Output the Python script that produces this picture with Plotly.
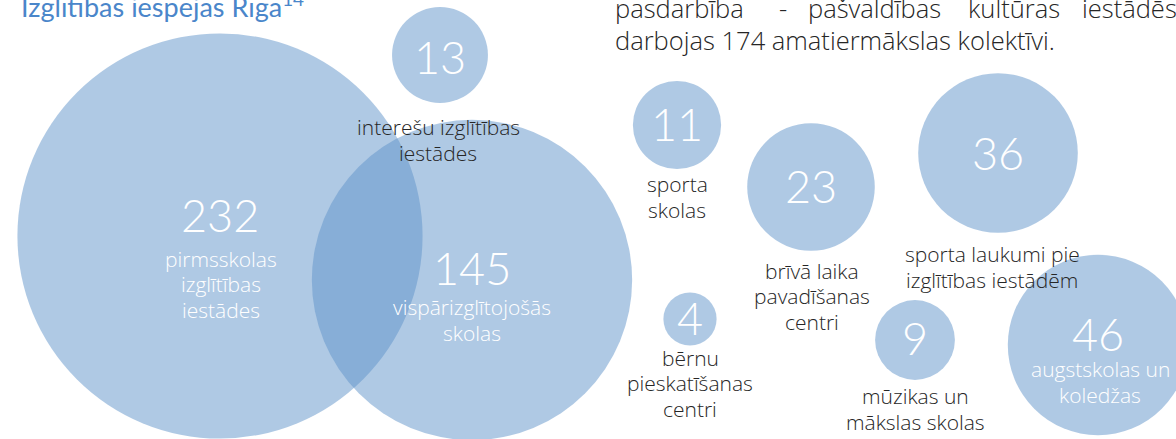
import plotly.graph_objects as go

# ---- data ----
values = [232, 145, 13, 11, 23, 36, 4, 9, 46]
labels = [
    "pirmsskolas<br>izglītības<br>iestādes",
    "vispārizglītojošās<br>skolas",
    "interešu izglītības<br>iestādes",
    "sporta<br>skolas",
    "brīvā laika<br>pavadīšanas<br>centri",
    "sporta laukumi pie<br>izglītības iestādēm",
    "bērnu<br>pieskatīšanas<br>centri",
    "mūzikas un<br>mākslas skolas",
    "augstskolas un<br>koledžas",
]
label_inside = [True, True, False, False, False, False, False, False, True]
title_text = "Izglītības iespējas Rīgā<sup>14</sup>"
para_line1 = ["pasdarbība", "-", "pašvaldības", "kultūras", "iestādēs"]
para_line2 = "darbojas 174 amatiermākslas kolektīvi."

# ---- layout (pixel positions) ----
W, H = 1176, 439
cx = [220, 472, 440, 677, 811, 998, 690, 915, 1098]
cy = [236, 280, 55, 125, 187, 153, 319, 340, 345]
num_y = [215, 268, 57, 124, 186, 153, 318, 338, 334]
lab_x = [221, 472, 438, 677, 812, 992, 690, 915, 1100]
lab_y = [284, 320, 140, 197, 296, 267, 383, 409, 382]
LINE_PITCH = 25.5
para1_x = [613, 783, 874, 1014, 1176]
para1_anchor = ["left", "center", "center", "center", "right"]
para1_shift = [0, 0, 0, 0, 3]

BLUE = "rgb(95,147,201)"
DARK = "#262626"
NUMFONT = "Lato"
TXTFONT = "Open Sans"

fig = go.Figure()
fig.add_trace(go.Scatter(
    x=cx, y=cy, mode="markers",
    marker=dict(size=values, sizemode="area", sizeref=2 / (26.6 ** 2),
                color=BLUE, opacity=0.5, line=dict(width=0)),
    hoverinfo="skip", showlegend=False,
))

ann = []
for i, v in enumerate(values):
    ann.append(dict(x=cx[i], y=num_y[i], text=str(v), showarrow=False,
                    xanchor="center", yanchor="middle",
                    font=dict(family=NUMFONT, size=45, color="white", weight=300)))
    lines = labels[i].split("<br>")
    n = len(lines)
    for k, ln in enumerate(lines):
        ann.append(dict(x=lab_x[i], y=lab_y[i] + (k - (n - 1) / 2) * LINE_PITCH,
                        text=ln, showarrow=False,
                        xanchor="center", yanchor="middle",
                        font=dict(family=TXTFONT, size=21,
                                  color="white" if label_inside[i] else DARK,
                                  weight=300)))

ann.append(dict(x=19, y=5, text=title_text, showarrow=False,
                xanchor="left", yanchor="middle",
                font=dict(family=NUMFONT, size=27, color="rgb(74,134,202)", weight=400)))
for j, w in enumerate(para_line1):
    ann.append(dict(x=para1_x[j], y=8, text=w, showarrow=False,
                    xanchor=para1_anchor[j], yanchor="middle", xshift=para1_shift[j],
                    font=dict(family=TXTFONT, size=25.5, color=DARK, weight=300)))
ann.append(dict(x=613, y=40, text=para_line2, showarrow=False,
                xanchor="left", yanchor="middle",
                font=dict(family=TXTFONT, size=25.5, color=DARK, weight=300)))

fig.update_layout(
    width=W, height=H,
    margin=dict(l=0, r=0, t=0, b=0, pad=0),
    paper_bgcolor="white", plot_bgcolor="white",
    xaxis=dict(range=[0, W], visible=False, fixedrange=True),
    yaxis=dict(range=[H, 0], visible=False, fixedrange=True),
    annotations=ann,
    showlegend=False,
)
fig.write_html("out.html", config={"displayModeBar": False},
               post_script="document.body.style.margin='0';document.body.style.overflow='hidden';")
